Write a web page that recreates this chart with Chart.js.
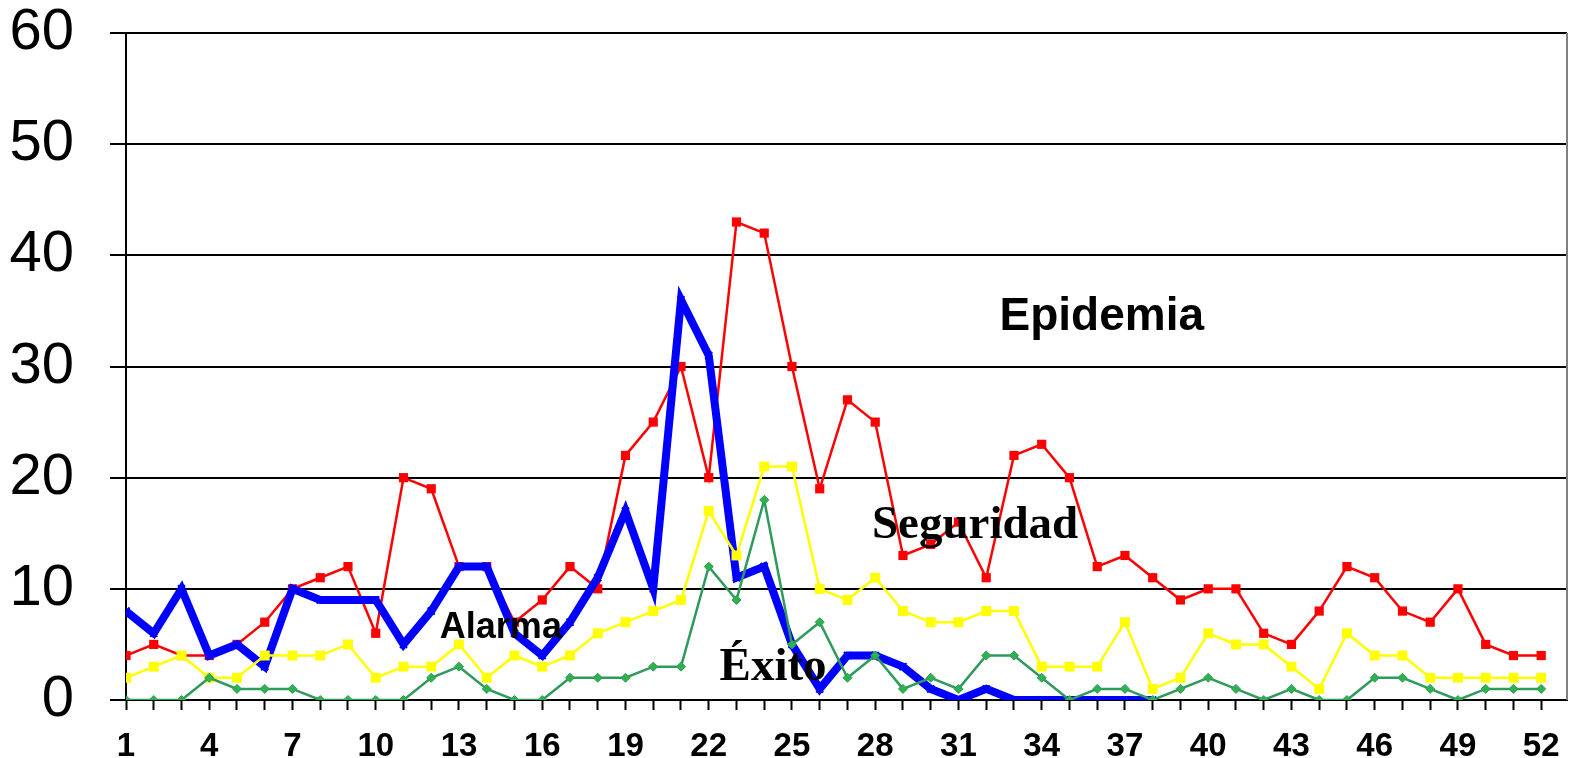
<!DOCTYPE html>
<html>
<head>
<meta charset="utf-8">
<script src="https://cdn.jsdelivr.net/npm/chart.js@4"></script>
<style>
  html, body { margin: 0; padding: 0; background: #fff; }
  #wrap { width: 1574px; height: 758px; position: relative; }
</style>
</head>
<body>
<div id="wrap"><canvas id="chart"></canvas></div>
<script>
// weeks and tick labels
const weeks = [1,2,3,4,5,6,7,8,9,10,11,12,13,14,15,16,17,18,19,20,21,22,23,24,25,26,
  27,28,29,30,31,32,33,34,35,36,37,38,39,40,41,42,43,44,45,46,47,48,49,50,51,52];
const weekTicks = [1,4,7,10,13,16,19,22,25,28,31,34,37,40,43,46,49,52];
const yTicks = [0,10,20,30,40,50,60];

// series
const epidemia = [4,5,4,4,5,7,10,11,12,6,20,19,12,12,7,9,12,10,22,25,30,20,43,42,30,19,
  27,25,13,14,16,11,22,23,20,12,13,11,9,10,10,6,5,8,12,11,8,7,10,5,4,4];
const seguridad = [2,3,4,2,2,4,4,4,5,2,3,3,5,2,4,3,4,6,7,8,9,17,13,21,21,10,
  9,11,8,7,7,8,8,3,3,3,7,1,2,6,5,5,3,1,6,4,4,2,2,2,2,2];
const exito = [0,0,0,2,1,1,1,0,0,0,0,2,3,1,0,0,2,2,2,3,3,12,9,18,5,7,
  2,4,1,2,1,4,4,2,0,1,1,0,1,2,1,0,1,0,0,2,2,1,0,1,1,1];
const actual = [8,6,10,4,5,3,10,9,9,9,5,8,12,12,6,4,7,11,17,10,36,31,11,12,5,1,
  4,4,3,1,0,1,0,0,0,0,0,0,null,null,null,null,null,null,null,null,null,null,null,null,null,null];

// zone labels drawn inside the plot
const zoneNames = ['Epidemia', 'Seguridad', 'Alarma', 'Éxito'];
const zoneAt = [[32.48, 33.3], [27.88, 14.6], [12.31, 5.6], [22.39, 1.8]];
const zoneFonts = ['bold 46px "Liberation Sans", Arial, sans-serif',
  'bold 47px "Liberation Serif", "Times New Roman", serif',
  'bold 36px "Liberation Sans", Arial, sans-serif',
  'bold 47px "Liberation Serif", "Times New Roman", serif'];

const zonePlugin = {
  id: 'zones',
  afterDatasetsDraw(chart) {
    const {ctx, scales: {x, y}} = chart;
    ctx.save();
    ctx.fillStyle = '#000';
    ctx.textAlign = 'left';
    ctx.textBaseline = 'alphabetic';
    zoneNames.forEach((t, i) => {
      ctx.font = zoneFonts[i];
      ctx.fillText(t, x.getPixelForValue(zoneAt[i][0]), y.getPixelForValue(zoneAt[i][1]));
    });
    ctx.restore();
  },
  afterDraw(chart) {
    // grey frame line on the right of the plot
    const {ctx, chartArea: a} = chart;
    ctx.save();
    ctx.strokeStyle = '#808080';
    ctx.lineWidth = 2;
    ctx.beginPath(); ctx.moveTo(a.right, a.top); ctx.lineTo(a.right, a.bottom); ctx.stroke();
    ctx.restore();
  }
};

new Chart(document.getElementById('chart'), {
  type: 'line',
  data: {
    labels: weeks,
    datasets: [
      { label: 'Éxito', data: exito, borderColor: '#2E9A5C', borderWidth: 2.5,
        pointStyle: 'rectRot', pointRadius: 4.5, pointBackgroundColor: '#2DB34A', pointBorderColor: '#2E9A5C', pointBorderWidth: 1 },
      { label: 'Seguridad', data: seguridad, borderColor: '#FFFF00', borderWidth: 2.5,
        pointStyle: 'rect', pointRadius: 7, pointBackgroundColor: '#FFFF00', pointBorderColor: '#FFFF00', pointBorderWidth: 0 },
      { label: 'Casos', data: actual, borderColor: '#0000FF', borderWidth: 8,
        pointStyle: 'crossRot', pointRadius: 5, pointBorderColor: '#0000FF', pointBorderWidth: 2 },
      { label: 'Epidemia', data: epidemia, borderColor: '#FF0000', borderWidth: 2.5,
        pointStyle: 'rect', pointRadius: 6.5, pointBackgroundColor: '#FF0000', pointBorderColor: '#FF0000', pointBorderWidth: 0 }
    ]
  },
  options: {
    responsive: true,
    maintainAspectRatio: false,
    animation: false,
    layout: { padding: { top: 0, right: 1, left: 0, bottom: 0 } },
    plugins: { legend: { display: false }, tooltip: { enabled: false } },
    elements: { line: { tension: 0 } },
    scales: {
      x: {
        type: 'linear', min: 1, max: 52.93,
        afterBuildTicks: s => { s.ticks = weeks.map(v => ({ value: v })); },
        afterFit: s => { s.height = 58; s.paddingLeft = 0; s.paddingRight = 0; },
        ticks: {
          autoSkip: false, maxRotation: 0, padding: 20, color: '#000',
          font: { family: '"Liberation Sans", Arial, sans-serif', size: 33, weight: 'bold', lineHeight: 1 },
          callback: v => weekTicks.includes(v) ? String(v) : ''
        },
        grid: { drawOnChartArea: false, drawTicks: true, tickLength: 10, tickWidth: 2, tickColor: '#000' },
        border: { display: true, color: '#000', width: 2 }
      },
      y: {
        min: 0, max: 60,
        afterBuildTicks: s => { s.ticks = yTicks.map(v => ({ value: v })); },
        afterFit: s => { s.width = 126; s.paddingTop = 33; s.paddingBottom = 0; },
        ticks: {
          padding: 36, color: '#000',
          font: { family: '"Liberation Sans", Arial, sans-serif', size: 58, lineHeight: 1 }
        },
        grid: { color: '#000', lineWidth: 2, tickLength: 16, tickColor: '#000' },
        border: { display: true, color: '#000', width: 2 }
      }
    }
  },
  plugins: [zonePlugin]
});
</script>
</body>
</html>
